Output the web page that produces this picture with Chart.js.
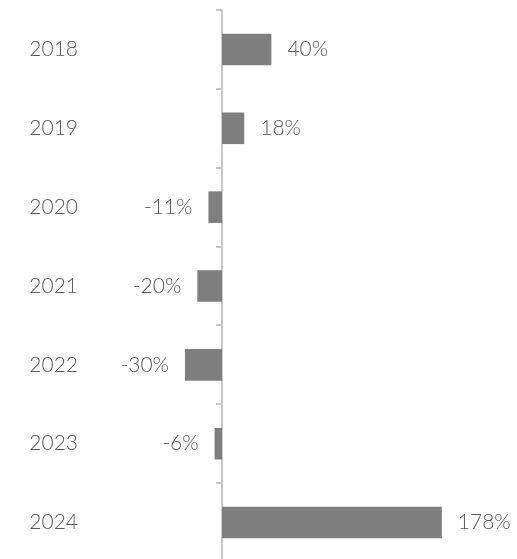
<!DOCTYPE html>
<html>
<head>
<meta charset="utf-8">
<script src="https://cdn.jsdelivr.net/npm/chart.js@4/dist/chart.umd.min.js"></script>
<style>
  html, body { margin: 0; padding: 0; background: #fff; overflow: hidden; }
  canvas { display: block; }
</style>
</head>
<body>
<canvas id="chart" width="517" height="562"></canvas>
<script>
// Daten
const years = ["2018", "2019", "2020", "2021", "2022", "2023", "2024"];
const changes = [40, 18, -11, -20, -30, -6, 178];

const textColor = "#595959";
const axisColor = "#c8c8c8";
const barColor = "#7f7f7f";
const fontFamily = "Lato, 'Open Sans', sans-serif";

// Wertbeschriftungen neben den Balken
const valueLabels = {
    id: "valueLabels",
    afterDatasetsDraw(chart) {
        const ctx = chart.ctx;
        const meta = chart.getDatasetMeta(0);
        ctx.save();
        ctx.font = "300 21px " + fontFamily;
        ctx.fillStyle = textColor;
        ctx.textBaseline = "middle";
        meta.data.forEach((bar, i) => {
            const v = changes[i];
            if (v >= 0) {
                ctx.textAlign = "left";
                ctx.fillText(v + "%", bar.x + 16, bar.y);
            } else {
                ctx.textAlign = "right";
                ctx.fillText(v + "%", bar.x - 16, bar.y);
            }
        });
        ctx.restore();
    }
};

new Chart(document.getElementById("chart"), {
    type: "bar",
    data: {
        labels: years,
        datasets: [{
            data: changes,
            backgroundColor: barColor,
            barPercentage: 0.5,
            categoryPercentage: 0.8,
            clip: false
        }]
    },
    options: {
        indexAxis: "y",
        responsive: false,
        animation: false,
        layout: { padding: { top: 10, right: 48, bottom: 0, left: 0 } },
        plugins: {
            legend: { display: false },
            tooltip: { enabled: false }
        },
        scales: {
            x: {
                display: false,
                min: 0,
                max: 200
            },
            y: {
                afterFit(scale) {
                    scale.width = 222;
                    // grosser Label-Abstand soll nicht oben/unten Platz kosten
                    scale.paddingTop = 0;
                    scale.paddingBottom = 0;
                },
                grid: {
                    drawOnChartArea: false,
                    drawTicks: true,
                    tickLength: 6,
                    color: axisColor,
                    lineWidth: 2
                },
                border: { color: axisColor, width: 2 },
                ticks: {
                    padding: 138,
                    color: textColor,
                    font: { family: fontFamily, size: 21, weight: 300 }
                }
            }
        }
    },
    plugins: [valueLabels]
});
</script>
</body>
</html>
